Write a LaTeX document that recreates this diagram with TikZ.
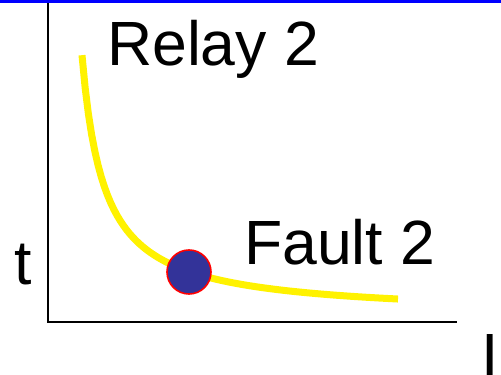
\documentclass[tikz,border=0pt]{standalone}
\usepackage{fontspec}
\setmainfont{Liberation Sans}
\usetikzlibrary{positioning}

\begin{document}
\begin{tikzpicture}[x=1pt,y=1pt,
	axis/.style={line width=2.5pt,black},
	lbl/.style={anchor=base west,inner sep=0pt,font=\fontsize{62.5}{75}\selectfont}]
				\useasboundingbox (0,0) rectangle (501,375);
				\draw[blue,line width=3.5pt] (0,373.5) -- (501,373.5);
				\draw[axis] (48,372) -- (48,53) -- (457,53);
				\draw[yellow,line width=7pt] plot[domain=82:398,samples=100] ({\x},{59+5738/(\x-60)});
				\node[draw=red,line width=1.6pt,circle,fill={rgb,255:red,51;green,51;blue,153},minimum size=44pt,inner sep=0pt] (fault) at (189,103) {};
				\node[lbl] (relay) at (107,309) {Relay 2};
				\node[lbl] (faultlbl) at (244,110) {Fault 2};
				\node[lbl] (t) at (14,90) {t};
				\node[lbl] (I) at (481,-3) {I};
\end{tikzpicture}
\end{document}
